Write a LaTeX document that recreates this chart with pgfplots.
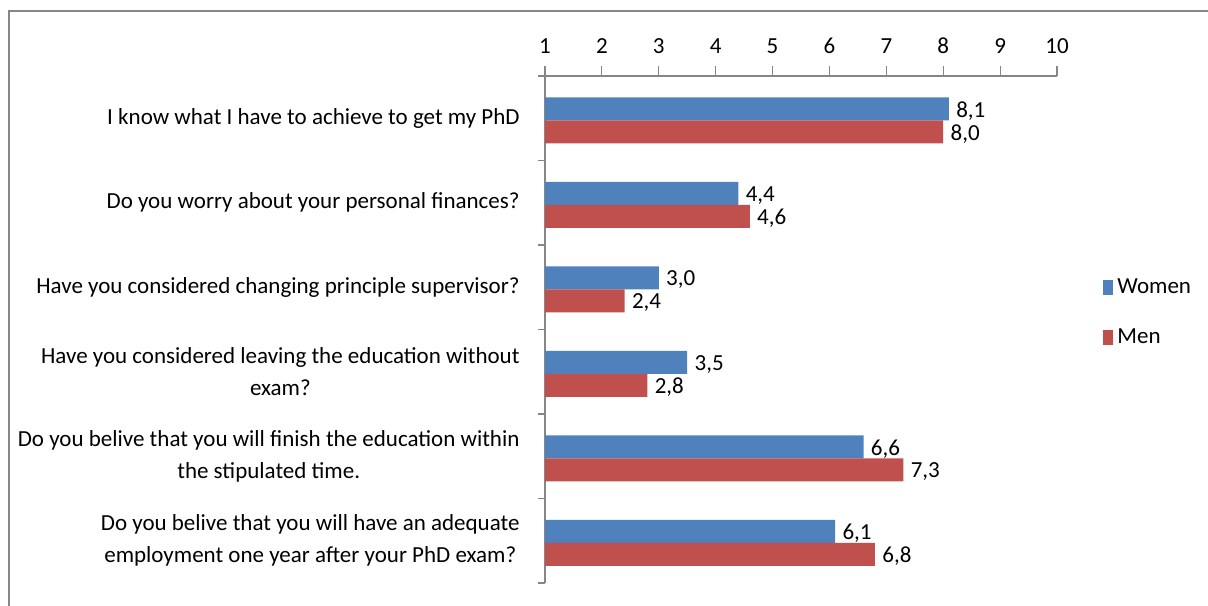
\documentclass[border=0pt]{standalone}
\usepackage{pgfplots}
\pgfplotsset{compat=1.18}
\usepackage{fontspec}
\setmainfont{Carlito}
\newcommand{\lf}{\fontsize{11.5}{16}\selectfont}
\definecolor{cwomen}{HTML}{4F81BD}
\definecolor{cmen}{HTML}{C0504D}
\definecolor{axgray}{HTML}{868686}
\begin{document}
\begin{tikzpicture}
\useasboundingbox (0,0) rectangle (604pt,302.5pt);
\draw[axgray, line width=0.9pt] (4.5pt,-2pt) -- (4.5pt,297pt) -- (606pt,297pt);
\begin{axis}[
  at={(272.5pt,11pt)}, anchor=south west,
  scale only axis, width=256pt, height=253.5pt,
  xmin=1, xmax=10, ymin=-0.5, ymax=5.5,
  axis x line*=top, axis y line*=left,
  axis line style={draw=axgray, line width=0.6pt},
  xtick={1,...,10},
  tick align=outside,
  x tick style={draw=axgray, line width=0.6pt},
  major tick length=5pt,
  xticklabel style={font=\lf, /pgf/number format/assume math mode=true, inner sep=0pt, yshift=6pt},
  ytick={0,...,5},
  y tick style={draw=none},
  yticklabels={{Do you belive that you will have an adequate\\employment one year after your PhD exam?},
    {Do you belive that you will finish the education within\\the stipulated time.},
    {Have you considered leaving the education without\\exam?},
    {Have you considered changing principle supervisor?},
    {Do you worry about your personal finances?},
    {I know what I have to achieve to get my PhD}},
  yticklabel style={font=\lf, align=center, anchor=east, inner sep=0pt, xshift=-7.5pt},
  extra y ticks={-0.5,0.5,1.5,2.5,3.5,4.5,5.5},
  extra y tick labels={},
  extra y tick style={y tick style={draw=axgray, line width=0.6pt}, major tick length=3.5pt},
  xbar, bar width=11.5pt,
  nodes near coords={\pgfmathprintnumber[fixed,fixed zerofill,precision=1,use comma,assume math mode=true]{\pgfplotspointmeta}},
  nodes near coords style={font=\lf, anchor=west, inner sep=2.5pt, xshift=1pt, yshift=-1pt},
  legend style={draw=none, at={(1.09,0.533)}, anchor=west, font=\lf, row sep=12pt, inner sep=0pt},
  legend cell align=left,
]
\addplot[fill=cwomen, draw=none, bar shift=4.75pt,
  legend image code/.code={\fill[cwomen] (0pt,-3.75pt) rectangle (5pt,3.75pt);}]
  coordinates {(8.1,5) (4.4,4) (3.0,3) (3.5,2) (6.6,1) (6.1,0)};
\addplot[fill=cmen, draw=none, bar shift=-6.75pt,
  legend image code/.code={\fill[cmen] (0pt,-3.75pt) rectangle (5pt,3.75pt);}]
  coordinates {(8.0,5) (4.6,4) (2.4,3) (2.8,2) (7.3,1) (6.8,0)};
\legend{Women,Men}
\end{axis}
\end{tikzpicture}
\end{document}
